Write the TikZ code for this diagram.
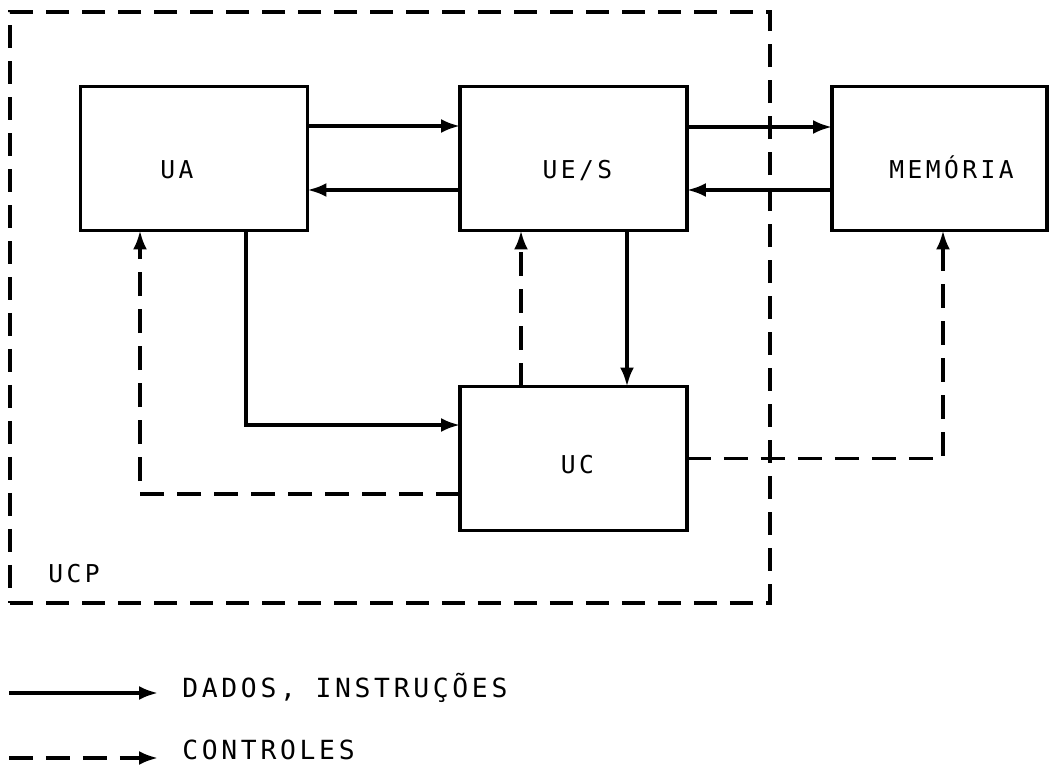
\documentclass[tikz,border=0pt]{standalone}
\usepackage{fontspec}
\newfontfamily\plotfont{DejaVu Sans Mono}[LetterSpace=14]
\usetikzlibrary{arrows.meta,positioning}

\tikzset{
  box/.style={draw, line width=2pt, inner sep=0pt, outer sep=0pt,
    minimum width=4.54cm, minimum height=2.88cm},
  lbl/.style={anchor=base, inner sep=0pt, font=\plotfont\fontsize{14}{16}\selectfont},
  data/.style={line width=2pt, -{Latex[length=0.38cm,width=0.28cm]}},
  ctrl/.style={data, dash pattern=on 0.48cm off 0.26cm},
}

\begin{document}
\begin{tikzpicture}[x=0.02cm, y=-0.02cm]
\useasboundingbox (0,0) rectangle (1061,766);

% blocos
\node[box] (ua)  at (194,158.5) {};
\node[box] (ues) at (573.5,158.5) {};
\node[box, minimum width=4.3cm] (mem) at (939.5,158.5) {};
\node[box] (uc)  at (573.5,458.5) {};
\node[lbl] (ua-t)  at ([shift={(-17,20)}]ua.center) {UA};
\node[lbl] (ues-t) at ([shift={(4,20)}]ues.center) {UE/S};
\node[lbl] (mem-t) at ([shift={(12,20)}]mem.center) {MEMÓRIA};
\node[lbl] (uc-t)  at ([shift={(4,15)}]uc.center) {UC};

% UCP
\node[draw, line width=2pt, dash pattern=on 0.46cm off 0.26cm, inner sep=0pt,
  minimum width=15.2cm, minimum height=11.82cm] (ucp) at (390,307.5) {};
\node[lbl, anchor=base west] (ucp-t) at (48,582) {UCP};

% dados
\draw[data] ([yshift=0.65cm]ua.east) -- ([yshift=0.65cm]ues.west);
\draw[data] ([yshift=-0.63cm]ues.west) -- ([yshift=-0.63cm]ua.east);
\draw[data] ([yshift=0.63cm]ues.east) -- ([yshift=0.63cm]mem.west);
\draw[data] ([yshift=-0.63cm]mem.west) -- ([yshift=-0.63cm]ues.east);
\draw[data] ([xshift=1.04cm]ua.south) |- ([yshift=0.67cm]uc.west);
\draw[data] ([xshift=1.07cm]ues.south) -- ([xshift=1.07cm]uc.north);

% controles
\draw[ctrl] ([xshift=-1.05cm]uc.north) -- ([xshift=-1.05cm]ues.south);
\draw[ctrl] ([yshift=-0.71cm]uc.west) -| ([xshift=-1.08cm]ua.south);
\draw[ctrl] (uc.east) -| ([xshift=0.07cm]mem.south);

% legenda
\node[lbl, anchor=base west, font=\plotfont\fontsize{15}{17}\selectfont] (dados) at (182,697) {DADOS, INSTRUÇÕES};
\node[lbl, anchor=base west, font=\plotfont\fontsize{15}{17}\selectfont] (contr) at (182,759) {CONTROLES};
\coordinate (leg1) at (9,693);
\coordinate (leg2) at (9,758);
\draw[data] (leg1) -- (leg1 -| 158,0);
\draw[ctrl] (leg2) -- (leg2 -| 158,0);
\end{tikzpicture}
\end{document}
